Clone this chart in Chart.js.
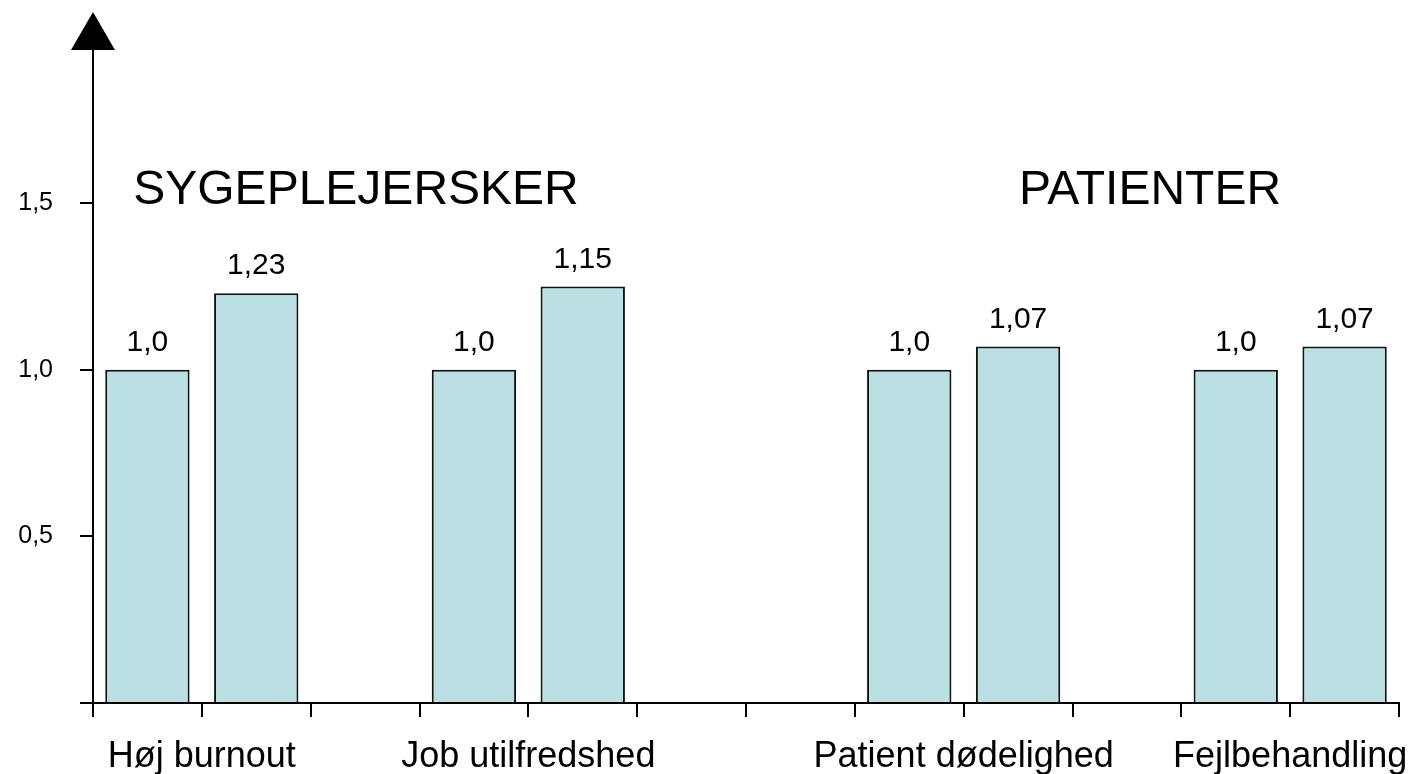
<!DOCTYPE html>
<html>
<head>
<meta charset="utf-8">
<script src="https://cdn.jsdelivr.net/npm/chart.js@4/dist/chart.umd.min.js"></script>
<style>
  body { margin: 0; background: #fff; }
  #wrap { width: 1412px; height: 774px; }
</style>
</head>
<body>
<div id="wrap"><canvas id="chart"></canvas></div>
<script>
  // 12 slots on the x axis, bars in pairs
  const slots = ['', '', '', '', '', '', '', '', '', '', '', ''];
  const barValues = [1.0, 1.23, null, 1.0, 1.25, null, null, 1.0, 1.07, null, 1.0, 1.07];
  const valueLabels = ['1,0', '1,23', '', '1,0', '1,15', '', '', '1,0', '1,07', '', '1,0', '1,07'];

  const categoryNames = ['Høj burnout', 'Job utilfredshed', 'Patient dødelighed', 'Fejlbehandling'];
  const categorySlots = [[0, 1], [3, 4], [7, 8], [10, 11]];

  const sectionTitles = ['SYGEPLEJERSKER', 'PATIENTER'];

  const yTickValues = [0, 0.5, 1.0, 1.5];
  const yTickLabels = ['', '0,5', '1,0', '1,5'];

  const FONT = '"Liberation Sans", Arial, sans-serif';

  // tekster, pil og værdier ovenpå grafen
  const overlay = {
    id: 'overlay',
    afterDraw(chart) {
      const ctx = chart.ctx;
      const x = chart.scales.x;
      const area = chart.chartArea;
      ctx.save();
      ctx.fillStyle = '#000';

      // pil på y-aksen
      ctx.beginPath();
      ctx.moveTo(area.left - 22, area.top);
      ctx.lineTo(area.left + 22, area.top);
      ctx.lineTo(area.left, 12);
      ctx.closePath();
      ctx.fill();

      // værdier over søjlerne
      ctx.font = '30px ' + FONT;
      ctx.textAlign = 'center';
      ctx.textBaseline = 'alphabetic';
      const meta = chart.getDatasetMeta(0);
      meta.data.forEach((bar, i) => {
        if (barValues[i] == null) return;
        ctx.fillText(valueLabels[i], bar.x, bar.y - 19);
      });

      // kategorinavne under aksen
      ctx.font = '36px ' + FONT;
      categoryNames.forEach((name, i) => {
        const [a, b] = categorySlots[i];
        const cx = (x.getPixelForValue(a) + x.getPixelForValue(b)) / 2;
        ctx.fillText(name, cx, 767);
      });

      // gruppeoverskrifter
      ctx.font = '48px ' + FONT;
      ctx.fillText(sectionTitles[0], 356, 204);
      ctx.fillText(sectionTitles[1], 1150, 204);
      ctx.restore();
    }
  };

  new Chart(document.getElementById('chart'), {
    type: 'bar',
    data: {
      labels: slots,
      datasets: [{
        data: barValues,
        backgroundColor: '#bbe0e3',
        borderColor: '#111',
        borderWidth: 2,
        borderSkipped: 'bottom',
        categoryPercentage: 1,
        barPercentage: 0.775
      }]
    },
    options: {
      responsive: true,
      maintainAspectRatio: false,
      animation: false,
      layout: { padding: { top: 50, right: 13, left: 0, bottom: 0 } },
      plugins: {
        legend: { display: false },
        tooltip: { enabled: false }
      },
      scales: {
        x: {
          offset: true,
          grid: {
            offset: true,
            drawOnChartArea: false,
            drawTicks: true,
            tickLength: 14,
            color: '#000',
            lineWidth: 2
          },
          border: { display: true, color: '#000', width: 2 },
          ticks: { display: false },
          afterFit: (scale) => { scale.height = 71; }
        },
        y: {
          min: 0,
          max: 1.96,
          afterBuildTicks: (scale) => {
            scale.ticks = yTickValues.map(v => ({ value: v }));
          },
          grid: {
            drawOnChartArea: false,
            drawTicks: true,
            tickLength: 13,
            color: '#000',
            lineWidth: 2
          },
          border: { display: true, color: '#000', width: 2 },
          ticks: {
            color: '#000',
            font: { family: FONT, size: 25 },
            padding: 27,
            callback: (value) => yTickLabels[yTickValues.indexOf(value)] ?? ''
          },
          afterFit: (scale) => { scale.width = 93; }
        }
      }
    },
    plugins: [overlay]
  });
</script>
</body>
</html>
